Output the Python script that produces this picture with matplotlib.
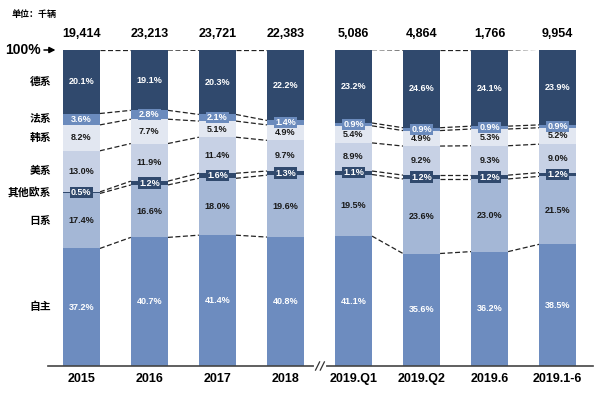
import numpy as np
import matplotlib
matplotlib.use("Agg")
import matplotlib.pyplot as plt

# data
periods = ['2015', '2016', '2017', '2018', '2019.Q1', '2019.Q2', '2019.6', '2019.1-6']
totals = ['19,414', '23,213', '23,721', '22,383', '5,086', '4,864', '1,766', '9,954']

# stacking order bottom -> top
series = ['自主', '日系', '其他欧系', '美系', '韩系', '法系', '德系']
own = [37.2, 40.7, 41.4, 40.8, 41.1, 35.6, 36.2, 38.5]
japan = [17.4, 16.6, 18.0, 19.6, 19.5, 23.6, 23.0, 21.5]
other_eu = [0.5, 1.2, 1.6, 1.3, 1.1, 1.2, 1.2, 1.2]
usa = [13.0, 11.9, 11.4, 9.7, 8.9, 9.2, 9.3, 9.0]
korea = [8.2, 7.7, 5.1, 4.9, 5.4, 4.9, 5.3, 5.2]
france = [3.6, 2.8, 2.1, 1.4, 0.9, 0.9, 0.9, 0.9]
germany = [20.1, 19.1, 20.3, 22.2, 23.2, 24.6, 24.1, 23.9]
values = [own, japan, other_eu, usa, korea, france, germany]

colors = ['#6d8cbf', '#a4b7d6', '#30496d', '#c7d1e5', '#e2e7f1', '#6b8bbd', '#30496d']
text_colors = ['white', '#1a1a1a', 'white', '#1a1a1a', '#1a1a1a', 'white', 'white']
boxed = [False, False, True, False, False, True, False]

groups = [[0, 1, 2, 3], [4, 5, 6, 7]]

cjk = 'Noto Sans CJK SC'
num = 'Liberation Sans'

fig = plt.figure(figsize=(6, 4), dpi=100)
ax = fig.add_axes([48 / 600, 1 - 366 / 400, 545 / 600, 316 / 400])

x = np.arange(len(periods))
w = 0.545
data = np.array(values)
bottoms = np.vstack([np.zeros(len(periods)), np.cumsum(data, axis=0)[:-1]])
tops = np.cumsum(data, axis=0)

for k in range(len(series)):
    ax.bar(x, data[k], w, bottom=bottoms[k], color=colors[k], edgecolor='none', zorder=2)
    for i in range(len(periods)):
        yc = bottoms[k][i] + data[k][i] / 2
        kw = {}
        if boxed[k]:
            kw['bbox'] = dict(boxstyle='square,pad=0.12', fc=colors[k], ec='none')
        ax.text(x[i], yc, f'{data[k][i]:.1f}%', ha='center', va='center',
                fontsize=6.5, fontweight='bold', family=num, color=text_colors[k],
                zorder=4, **kw)

# dashed connectors between neighbouring bars
levels = np.vstack([np.zeros(len(periods)), tops])
for g in groups:
    for a, b in zip(g[:-1], g[1:]):
        for lv in levels[1:]:
            ax.plot([x[a] + w / 2, x[b] - w / 2], [lv[a], lv[b]], color='#222222',
                    lw=0.9, ls=(0, (4, 2)), zorder=1)

# totals above bars
for i in range(len(periods)):
    ax.text(x[i], 103.2, totals[i], ha='center', va='bottom', fontsize=9,
            fontweight='bold', family=num, color='black', clip_on=False)

# category labels on the left, aligned with the first bar
for k in range(len(series)):
    yc = bottoms[k][0] + data[k][0] / 2
    ax.text(-0.44, yc, series[k], ha='right', va='center', fontsize=7.8,
            fontweight='bold', family=[cjk, 'DejaVu Sans'], clip_on=False)

# "100% ->" marker
ax.text(-1.12, 100, '100%', ha='left', va='center', fontsize=10,
        fontweight='bold', family=num, clip_on=False)
ax.annotate('', xy=(-0.34, 100), xytext=(-0.59, 100), annotation_clip=False,
            arrowprops=dict(arrowstyle='-|>,head_length=0.35,head_width=0.18',
                            color='black', lw=1.1))

fig.text(12 / 600, 1 - 14 / 400, '单位：千辆', ha='left', va='center', fontsize=6.5,
         fontweight='bold', family=[cjk, 'DejaVu Sans'])

ax.set_xlim(-0.49, 7.52)
ax.set_ylim(0, 100)
ax.set_xticks(x)
ax.set_xticklabels(periods, fontsize=9, fontweight='bold', family=num)
ax.tick_params(axis='x', length=0, pad=5)
ax.set_yticks([])
for s in ['top', 'right', 'left']:
    ax.spines[s].set_visible(False)
ax.spines['bottom'].set_color('#444444')
ax.spines['bottom'].set_linewidth(1.2)

# axis break marker
bx = 3.507
ax.plot([bx - 0.06, bx + 0.06], [0, 0], color='white', lw=3, clip_on=False, zorder=5)
for dx in (-0.035, 0.035):
    ax.plot([bx + dx - 0.03, bx + dx + 0.03], [-1.3, 1.3], color='#333333', lw=0.9,
            clip_on=False, zorder=6)

fig.savefig('out.png', dpi=100)
